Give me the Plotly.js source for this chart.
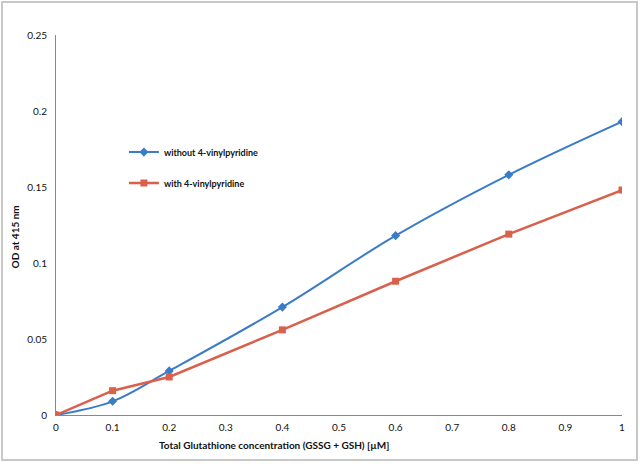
<!DOCTYPE html>
<html>
<head>
<meta charset="utf-8">
<script src="https://cdn.plot.ly/plotly-3.0.1.min.js"></script>
<style>
  html, body { margin: 0; padding: 0; background: #fff; }
  #chart { width: 640px; height: 464px; }
</style>
</head>
<body>
<div id="chart"></div>
<script>
var concentration = [0, 0.1, 0.2, 0.4, 0.6, 0.8, 1];
var withoutVP = [0, 0.009, 0.029, 0.071, 0.118, 0.158, 0.193];
var withVP = [0, 0.016, 0.025, 0.056, 0.088, 0.119, 0.148];
var xTicks = [0, 0.1, 0.2, 0.3, 0.4, 0.5, 0.6, 0.7, 0.8, 0.9, 1];
var yTicks = [0, 0.05, 0.1, 0.15, 0.2, 0.25];

var font = "Lato, 'Open Sans', sans-serif";

var blue = {
  x: concentration,
  y: withoutVP,
  name: "<b>without 4-vinylpyridine</b>",
  mode: "lines+markers",
  line: { color: "#3b7cc8", width: 2, shape: "spline", smoothing: 1 },
  marker: { symbol: "diamond", size: 7, color: "#3b7cc8" },
  legendgroup: "a"
};
var red = {
  x: concentration,
  y: withVP,
  name: "<b>with 4-vinylpyridine</b>",
  mode: "lines+markers",
  line: { color: "#d8604c", width: 2.5 },
  marker: { symbol: "square", size: 7, color: "#d8604c" },
  legendgroup: "b"
};

var layout = {
  width: 640,
  height: 464,
  margin: { l: 56, r: 18, t: 35, b: 49 },
  paper_bgcolor: "#fff",
  plot_bgcolor: "#fff",
  font: { family: font, size: 9, color: "#111" },
  showlegend: true,
  legend: {
    x: 0.12, y: 0.73, xanchor: "left", yanchor: "top",
    bgcolor: "rgba(0,0,0,0)",
    font: { family: font, size: 9, color: "#111" },
    tracegroupgap: 12,
    itemwidth: 30
  },
  xaxis: {
    range: [0, 1],
    tickvals: xTicks,
    ticktext: xTicks.map(String),
    showgrid: false,
    zeroline: false,
    showline: true,
    linecolor: "#888",
    linewidth: 1,
    ticks: "",
    ticklabelstandoff: 3,
    tickfont: { family: font, size: 10, color: "#111" }
  },
  yaxis: {
    range: [0, 0.25],
    tickvals: yTicks,
    ticktext: yTicks.map(String),
    showgrid: false,
    zeroline: false,
    showline: true,
    linecolor: "#888",
    linewidth: 1,
    ticks: "",
    ticklabelstandoff: 6,
    tickfont: { family: font, size: 10, color: "#111" }
  },
  annotations: [{
    text: "<b>Total Glutathione concentration (GSSG + GSH) [µM]</b>",
    xref: "paper", yref: "paper", x: 0.385, y: -0.079,
    xanchor: "center", yanchor: "middle", showarrow: false,
    font: { family: font, size: 10, color: "#111" }
  }, {
    text: "<b>OD at 415 nm</b>",
    xref: "paper", yref: "paper", x: -0.072, y: 0.468,
    xanchor: "center", yanchor: "middle", showarrow: false, textangle: -90,
    font: { family: font, size: 10, color: "#111" }
  }],
  shapes: [{
    type: "rect", xref: "paper", yref: "paper",
    x0: -0.0954, x1: 1.0265, y0: -0.1184, y1: 1.0868,
    line: { color: "#c8c8c8", width: 2 }
  }]
};

Plotly.newPlot("chart", [blue, red], layout, { displayModeBar: false });
</script>
</body>
</html>
